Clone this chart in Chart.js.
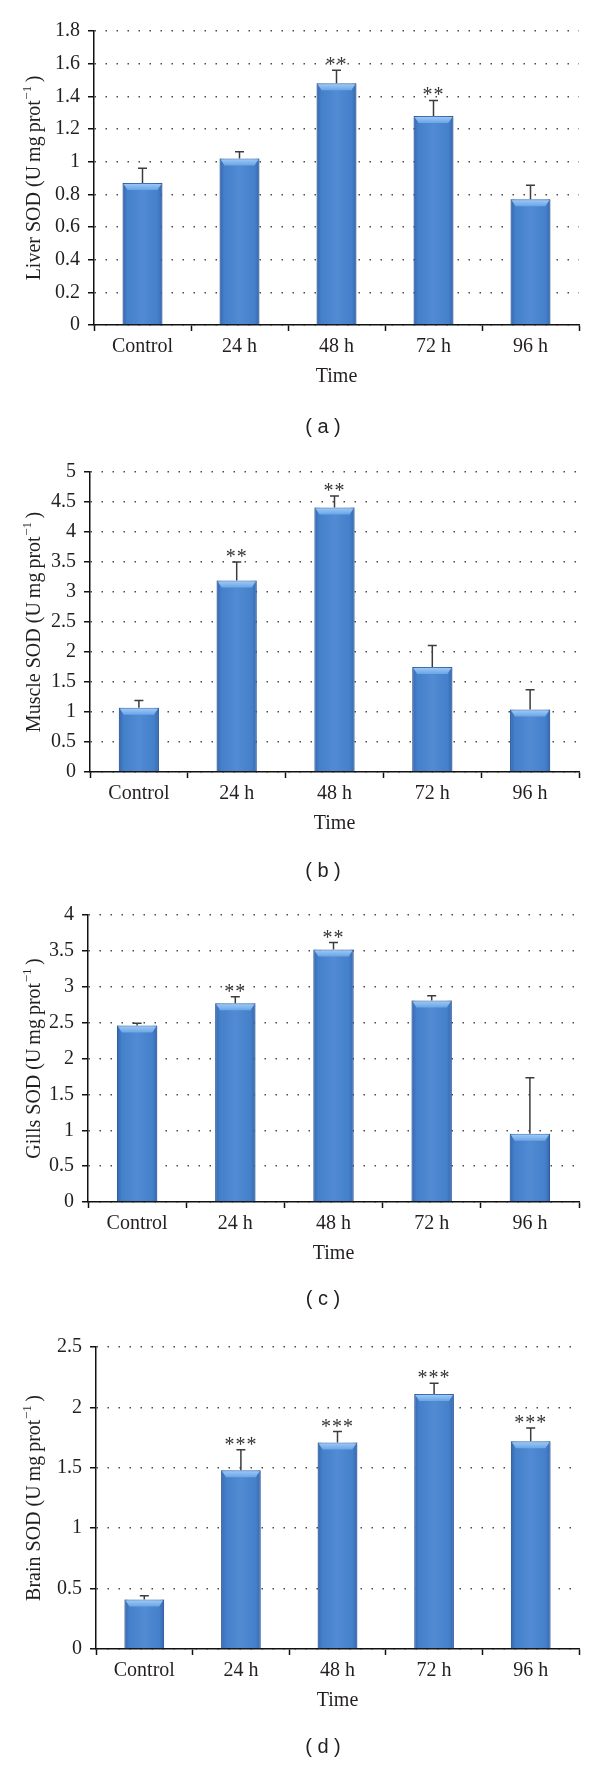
<!DOCTYPE html>
<html lang="en">
<head>
  <meta charset="UTF-8">
  <title>SOD activity</title>
  <script src="https://cdn.jsdelivr.net/npm/chart.js"></script>
  <style>
    body {
      margin: 0;
      background-color: #fff;
    }
    #page {
      position: relative;
      width: 600px;
      height: 1765px;
    }
    canvas {
      position: absolute;
      left: 0;
    }
    .cap {
      position: absolute;
      left: 273px;
      width: 100px;
      text-align: center;
      font-family: 'Liberation Sans', Arial, sans-serif;
      font-size: 20px;
      line-height: 22px;
      color: #231f20;
    }
  </style>
</head>
<body>
  <div id="page">
    <canvas id="chartA" width="600" height="440" style="top:0px"></canvas>
    <canvas id="chartB" width="600" height="440" style="top:440px"></canvas>
    <canvas id="chartC" width="600" height="440" style="top:880px"></canvas>
    <canvas id="chartD" width="600" height="445" style="top:1320px"></canvas>
  </div>

  <script>
    // data
    const categories = ['Control', '24 h', '48 h', '72 h', '96 h'];

    const liverSOD = [0.87, 1.02, 1.48, 1.28, 0.77];
    const liverSD = [0.09, 0.04, 0.08, 0.095, 0.085];
    const liverStars = ['', '', '**', '**', ''];
    const liverTicks = [0, 0.2, 0.4, 0.6, 0.8, 1, 1.2, 1.4, 1.6, 1.8];

    const muscleSOD = [1.07, 3.19, 4.41, 1.75, 1.04];
    const muscleSD = [0.12, 0.31, 0.19, 0.36, 0.33];
    const muscleStars = ['', '**', '**', '', ''];
    const muscleTicks = [0, 0.5, 1, 1.5, 2, 2.5, 3, 3.5, 4, 4.5, 5];

    const gillsSOD = [2.46, 2.77, 3.52, 2.81, 0.95];
    const gillsSD = [0.03, 0.09, 0.095, 0.065, 0.78];
    const gillsStars = ['', '**', '**', '', ''];
    const gillsTicks = [0, 0.5, 1, 1.5, 2, 2.5, 3, 3.5, 4];

    const brainSOD = [0.41, 1.48, 1.71, 2.11, 1.72];
    const brainSD = [0.03, 0.17, 0.09, 0.09, 0.11];
    const brainStars = ['', '***', '***', '***', '***'];
    const brainTicks = [0, 0.5, 1, 1.5, 2, 2.5];

    // layout of each panel on the page
    const panels = [
      { id: 'chartA', top: 0, height: 440, left: 94, plotTop: 31, plotBottom: 325, capY: 426, cap: '( a )',
        organ: 'Liver', values: liverSOD, sd: liverSD, stars: liverStars, ticks: liverTicks },
      { id: 'chartB', top: 440, height: 440, left: 90, plotTop: 472, plotBottom: 772, capY: 870, cap: '( b )',
        organ: 'Muscle', values: muscleSOD, sd: muscleSD, stars: muscleStars, ticks: muscleTicks },
      { id: 'chartC', top: 880, height: 440, left: 88, plotTop: 915, plotBottom: 1202, capY: 1298, cap: '( c )',
        organ: 'Gills', values: gillsSOD, sd: gillsSD, stars: gillsStars, ticks: gillsTicks },
      { id: 'chartD', top: 1320, height: 445, left: 96, plotTop: 1347, plotBottom: 1649, capY: 1746, cap: '( d )',
        organ: 'Brain', values: brainSOD, sd: brainSD, stars: brainStars, ticks: brainTicks }
    ];

    const plotRight = 579;
    const xAxisHeight = 70;
    const textColor = '#231f20';
    const serif = "'Liberation Serif', 'Times New Roman', serif";

    // bar shading, error bars, stars and the y title with its superscript
    const extras = {
      id: 'extras',
      afterDatasetsDraw(chart, args, opts) {
        const ctx = chart.ctx;
        const y = chart.scales.y;
        chart.getDatasetMeta(0).data.forEach((bar, i) => {
          const x0 = bar.x - bar.width / 2;
          const x1 = bar.x + bar.width / 2;
          const top = bar.y;
          const base = bar.base;

          ctx.save();
          const g = ctx.createLinearGradient(x0, 0, x1, 0);
          g.addColorStop(0, 'rgba(20,50,110,0.35)');
          g.addColorStop(0.12, 'rgba(20,50,110,0.05)');
          g.addColorStop(0.5, 'rgba(255,255,255,0.06)');
          g.addColorStop(0.88, 'rgba(20,50,110,0.05)');
          g.addColorStop(1, 'rgba(20,50,110,0.35)');
          ctx.fillStyle = g;
          ctx.fillRect(x0, top, x1 - x0, base - top);

          const tg = ctx.createLinearGradient(0, top, 0, top + 7);
          tg.addColorStop(0, '#a3cdf7');
          tg.addColorStop(1, '#6aa5e6');
          ctx.fillStyle = tg;
          ctx.beginPath();
          ctx.moveTo(x0 + 1, top + 1);
          ctx.lineTo(x1 - 1, top + 1);
          ctx.lineTo(x1 - 5, top + 7);
          ctx.lineTo(x0 + 5, top + 7);
          ctx.closePath();
          ctx.fill();

          // error bar (upper only)
          const ey = y.getPixelForValue(opts.values[i] + opts.sd[i]);
          ctx.strokeStyle = '#3c3c3c';
          ctx.lineWidth = 1.5;
          ctx.beginPath();
          ctx.moveTo(bar.x, top);
          ctx.lineTo(bar.x, ey);
          ctx.moveTo(bar.x - 4.5, ey);
          ctx.lineTo(bar.x + 4.5, ey);
          ctx.stroke();

          if (opts.stars[i]) {
            ctx.fillStyle = '#333';
            ctx.font = '20px ' + serif;
            ctx.letterSpacing = '1px';
            ctx.textAlign = 'center';
            ctx.textBaseline = 'alphabetic';
            ctx.fillText(opts.stars[i], bar.x, ey + 1);
          }
          ctx.restore();
        });

        // rotated y title: "<organ> SOD (U mg prot" + superscript "−1" + " )"
        const main = opts.organ + ' SOD (U\u2009mg\u2009prot';
        const sup = '\u22121';
        const close = '\u2009)';
        ctx.save();
        ctx.fillStyle = textColor;
        ctx.textBaseline = 'middle';
        ctx.textAlign = 'left';
        ctx.font = '20px ' + serif;
        const wMain = ctx.measureText(main).width;
        const wClose = ctx.measureText(close).width;
        ctx.font = '13px ' + serif;
        const wSup = ctx.measureText(sup).width;
        const total = wMain + wSup + wClose;
        const cy = (chart.chartArea.top + chart.chartArea.bottom) / 2;
        ctx.translate(opts.titleX, cy);
        ctx.rotate(-Math.PI / 2);
        let x = -total / 2;
        ctx.font = '20px ' + serif;
        ctx.fillText(main, x, 0);
        x += wMain;
        ctx.font = '13px ' + serif;
        ctx.fillText(sup, x + 0.5, -7);
        x += wSup;
        ctx.font = '20px ' + serif;
        ctx.fillText(close, x, 0);
        ctx.restore();
      }
    };

    panels.forEach(p => {
      const page = document.getElementById('page');
      const cap = document.createElement('div');
      cap.className = 'cap';
      cap.style.top = (p.capY - 11) + 'px';
      cap.textContent = p.cap;
      page.appendChild(cap);

      const ctx = document.getElementById(p.id).getContext('2d');
      new Chart(ctx, {
        type: 'bar',
        data: {
          labels: categories,
          datasets: [{
            data: p.values,
            backgroundColor: '#4784d0',
            borderColor: '#3a6cb0',
            borderWidth: 1,
            categoryPercentage: 1,
            barPercentage: 0.41
          }]
        },
        options: {
          responsive: false,
          animation: false,
          devicePixelRatio: 1,
          layout: {
            padding: {
              left: 0,
              right: 600 - plotRight,
              top: p.plotTop - p.top,
              bottom: p.height - (p.plotBottom - p.top) - xAxisHeight
            }
          },
          plugins: {
            legend: { display: false },
            tooltip: { enabled: false },
            extras: { values: p.values, sd: p.sd, stars: p.stars, organ: p.organ, titleX: 35 }
          },
          scales: {
            x: {
              afterFit: s => { s.height = xAxisHeight; },
              grid: {
                offset: true,
                drawOnChartArea: false,
                drawTicks: true,
                tickLength: 6,
                tickColor: '#111',
                tickWidth: 1.5,
                tickBorderDash: []
              },
              border: { display: true, color: '#111', width: 1.5 },
              ticks: {
                color: textColor,
                padding: 4,
                font: { family: serif, size: 20, lineHeight: 1.2 }
              },
              title: {
                display: true,
                text: 'Time',
                color: textColor,
                padding: { top: 0, bottom: 6 },
                font: { family: serif, size: 20, lineHeight: 1.2 }
              }
            },
            y: {
              min: 0,
              max: p.ticks[p.ticks.length - 1],
              afterFit: s => { s.width = p.left; },
              afterBuildTicks: s => { s.ticks = p.ticks.map(v => ({ value: v })); },
              grid: {
                color: '#4a4a4a',
                lineWidth: 1.5,
                drawTicks: true,
                tickLength: 6,
                tickColor: '#111',
                tickWidth: 1.5,
                tickBorderDash: []
              },
              border: { display: true, color: '#111', width: 1.5, dash: [1.5, 9.5], dashOffset: 0 },
              ticks: {
                color: textColor,
                padding: 8,
                font: { family: serif, size: 20, lineHeight: 1.2 },
                callback: v => String(v)
              },
              title: { display: false }
            }
          }
        },
        plugins: [extras]
      });
    });
  </script>
</body>
</html>
